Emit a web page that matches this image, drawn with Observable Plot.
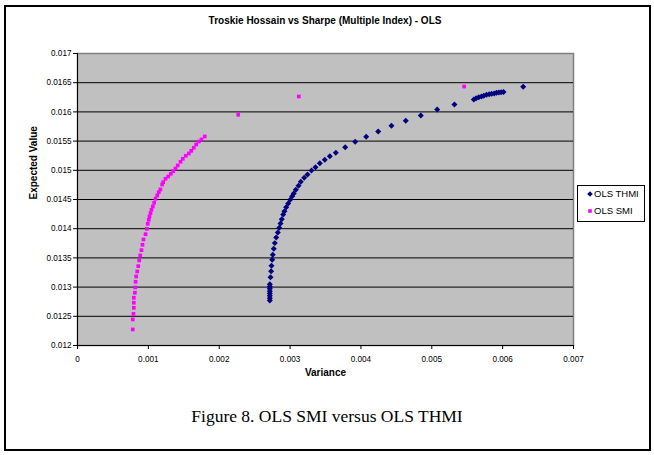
<!DOCTYPE html>
<html>
<head>
<meta charset="utf-8">
<script src="https://cdn.jsdelivr.net/npm/d3@7"></script>
<script src="https://cdn.jsdelivr.net/npm/@observablehq/plot@0.6"></script>
<style>
  html, body { margin: 0; padding: 0; background: #fff; }
  #wrap { position: relative; width: 654px; height: 455px; overflow: hidden; font-family: "Liberation Sans", Arial, sans-serif; }
  #border { position: absolute; left: 4px; top: 5px; width: 643px; height: 442px; border: 2px solid #000; box-sizing: content-box; }
  #chart { position: absolute; left: 0; top: 0; }
  #title { position: absolute; left: 77px; width: 496px; top: 15px; text-align: center; font-weight: bold; font-size: 10px; }
  #legend { position: absolute; left: 577px; top: 185px; width: 66px; height: 35px; border: 1px solid #000; background: #fff; font-size: 9.5px; }
  .li { position: absolute; left: 16px; line-height: 11px; white-space: nowrap; }
  .sym { position: absolute; }
  #caption { position: absolute; left: 0; width: 654px; top: 406px; text-align: center; font-family: "Liberation Serif", "Times New Roman", serif; font-size: 17.5px; }
</style>
</head>
<body>
<div id="wrap">
  <div id="border"></div>
  <div id="chart"></div>
  <div id="title">Troskie Hossain vs Sharpe (Multiple Index) - OLS</div>
  <div id="legend"></div>
  <div id="caption">Figure 8. OLS SMI versus OLS THMI</div>
</div>
<script>
// ---- data ----
const seriesNames = ["OLS THMI", "OLS SMI"];
const seriesColors = ["#000080", "#FF00FF"];

const thmiVar = [
  0.002714, 0.002714, 0.002714, 0.002714, 0.002714, 0.002714, 0.002714, 0.002714,
  0.002724, 0.002733, 0.002738, 0.002748, 0.002756, 0.002770, 0.002785, 0.002804,
  0.002827, 0.002847, 0.002865, 0.002883, 0.002903, 0.002921, 0.002945, 0.002973,
  0.003002, 0.003030, 0.003052, 0.003081, 0.003119, 0.003152, 0.003199, 0.003246,
  0.003302, 0.003359, 0.003420, 0.003490, 0.003561, 0.003646, 0.003778, 0.003919,
  0.004074, 0.004244, 0.004431, 0.004633, 0.004845, 0.005076, 0.005320,
  0.005593, 0.005626, 0.005663, 0.005701, 0.005734, 0.005772, 0.005810, 0.005845,
  0.005881, 0.005913, 0.005946, 0.005979, 0.006012, 0.006290
];
const thmiExp = [
  0.012771, 0.012811, 0.012852, 0.012891, 0.012931, 0.012971, 0.013011, 0.013050,
  0.013170, 0.013273, 0.013365, 0.013468, 0.013554, 0.013657, 0.013753, 0.013850,
  0.013935, 0.014016, 0.014090, 0.014163, 0.014244, 0.014300, 0.014369, 0.014432,
  0.014495, 0.014557, 0.014603, 0.014667, 0.014735, 0.014803, 0.014872, 0.014929,
  0.014997, 0.015054, 0.015122, 0.015180, 0.015242, 0.015300, 0.015396, 0.015488,
  0.015574, 0.015665, 0.015762, 0.015848, 0.015939, 0.016041, 0.016127,
  0.016212, 0.016235, 0.016252, 0.016264, 0.016276, 0.016293, 0.016304, 0.016310,
  0.016315, 0.016327, 0.016332, 0.016338, 0.016342, 0.016430
];

const smiVar = [
  0.000780, 0.000780, 0.000790, 0.000795, 0.000795, 0.000795, 0.000810, 0.000815,
  0.000820, 0.000828, 0.000843, 0.000857, 0.000871, 0.000885, 0.000903, 0.000917,
  0.000931, 0.000960, 0.000978, 0.000992, 0.001006, 0.001016, 0.001030, 0.001044,
  0.001063, 0.001082, 0.001101, 0.001125, 0.001147, 0.001170, 0.001195, 0.001209,
  0.001242, 0.001280, 0.001317, 0.001351, 0.001383, 0.001415, 0.001454, 0.001486,
  0.001528, 0.001571, 0.001605, 0.001641, 0.001675, 0.001712, 0.001750, 0.001796,
  0.002268, 0.003123, 0.005457
];
const smiExp = [
  0.012275, 0.012446, 0.012543, 0.012646, 0.012732, 0.012817, 0.012903, 0.012994,
  0.013091, 0.013182, 0.013268, 0.013359, 0.013456, 0.013542, 0.013633, 0.013725,
  0.013816, 0.013906, 0.013998, 0.014084, 0.014153, 0.014209, 0.014266, 0.014324,
  0.014381, 0.014443, 0.014512, 0.014569, 0.014626, 0.014672, 0.014757, 0.014797,
  0.014855, 0.014894, 0.014940, 0.014985, 0.015031, 0.015083, 0.015146, 0.015197,
  0.015249, 0.015288, 0.015334, 0.015386, 0.015442, 0.015493, 0.015528, 0.015579,
  0.015951, 0.016264, 0.016435
];

const xTicks = [0, 0.001, 0.002, 0.003, 0.004, 0.005, 0.006, 0.007];
const xTickLabels = ["0", "0.001", "0.002", "0.003", "0.004", "0.005", "0.006", "0.007"];
const yTicks = [0.012, 0.0125, 0.013, 0.0135, 0.014, 0.0145, 0.015, 0.0155, 0.016, 0.0165, 0.017];
const yTickLabels = ["0.012", "0.0125", "0.013", "0.0135", "0.014", "0.0145", "0.015", "0.0155", "0.016", "0.0165", "0.017"];
const xLabel = "Variance";
const yLabel = "Expected Value";

// ---- build tables ----
const thmi = thmiVar.map((v, i) => ({variance: v, expected: thmiExp[i]}));
const smi = smiVar.map((v, i) => ({variance: v, expected: smiExp[i]}));
const gridLines = yTicks.slice(1, -1);

const chart = Plot.plot({
  width: 654,
  height: 455,
  marginLeft: 77,
  marginRight: 81,
  marginTop: 53,
  marginBottom: 110,
  style: {fontFamily: "'Liberation Sans', Arial, sans-serif", background: "transparent"},
  x: {domain: [0, 0.007]},
  y: {domain: [0.012, 0.017]},
  marks: [
    Plot.frame({fill: "#C0C0C0", stroke: "#808080", strokeWidth: 1.5}),
    Plot.ruleY(gridLines, {stroke: "#000", strokeWidth: 1}),
    Plot.axisY(yTicks, {
      tickSize: 4, tickPadding: 2, fontSize: 8.2, stroke: "#000", fill: "#000",
      tickFormat: (d, i) => yTickLabels[i], label: null
    }),
    Plot.axisX(xTicks, {
      tickSize: 4, tickPadding: 7, fontSize: 8.2, stroke: "#000", fill: "#000",
      tickFormat: (d, i) => xTickLabels[i], label: null
    }),
    Plot.ruleX([0], {stroke: "#000"}),
    Plot.ruleY([0.012], {stroke: "#000"}),
    Plot.text([xLabel], {frameAnchor: "bottom", dy: 30, fontWeight: "bold", fontSize: 10, fill: "#000"}),
    Plot.text([yLabel], {frameAnchor: "left", dx: -44, rotate: -90, fontWeight: "bold", fontSize: 10, fill: "#000"}),
    Plot.dot(thmi, {x: "variance", y: "expected", symbol: "diamond2", r: 2.7, fill: seriesColors[0], stroke: "none"}),
    Plot.dot(smi, {x: "variance", y: "expected", symbol: "square", r: 2.1, fill: seriesColors[1], stroke: "none"})
  ]
});
document.getElementById("chart").appendChild(chart);

// ---- legend ----
const legend = document.getElementById("legend");
const shapes = [d3.symbolDiamond2, d3.symbolSquare];
seriesNames.forEach((name, i) => {
  const top = 2 + i * 17;
  const s = document.createElementNS("http://www.w3.org/2000/svg", "svg");
  s.setAttribute("width", 8); s.setAttribute("height", 8);
  s.setAttribute("class", "sym");
  s.style.left = "8px"; s.style.top = (top + 2) + "px";
  const p = document.createElementNS("http://www.w3.org/2000/svg", "path");
  p.setAttribute("d", d3.symbol(shapes[i], i === 0 ? 20 : 13)());
  p.setAttribute("transform", "translate(4,4)");
  p.setAttribute("fill", seriesColors[i]);
  s.appendChild(p);
  legend.appendChild(s);
  const t = document.createElement("div");
  t.className = "li"; t.style.top = top + "px"; t.textContent = name;
  legend.appendChild(t);
});
</script>
</body>
</html>
